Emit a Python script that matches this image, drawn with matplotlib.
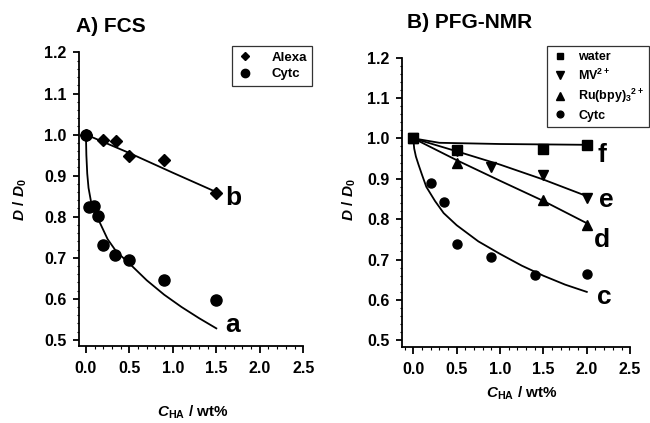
import matplotlib
matplotlib.use("Agg")
import matplotlib.pyplot as plt
from matplotlib.ticker import MultipleLocator

plt.rcParams['font.family'] = ['Liberation Sans', 'DejaVu Sans']
plt.rcParams['font.weight'] = 'bold'
plt.rcParams['mathtext.fontset'] = 'custom'
plt.rcParams['mathtext.rm'] = 'Liberation Sans:bold'
plt.rcParams['mathtext.it'] = 'Liberation Sans:italic:bold'
plt.rcParams['mathtext.bf'] = 'Liberation Sans:bold'

# Panel A (FCS) data
alexa_x = [0.0, 0.2, 0.35, 0.5, 0.9, 1.5]
alexa_y = [1.0, 0.986, 0.985, 0.949, 0.939, 0.858]
cytc_a_x = [0.0, 0.03, 0.09, 0.14, 0.2, 0.34, 0.5, 0.9, 1.5]
cytc_a_y = [1.0, 0.823, 0.826, 0.802, 0.730, 0.706, 0.694, 0.646, 0.597]

# fit curves a and b
fit_a_x = [0, 0.005, 0.015, 0.03, 0.06, 0.1, 0.15, 0.25, 0.35, 0.5, 0.7, 0.9, 1.1, 1.3, 1.5]
fit_a_y = [1.0, 0.95, 0.905, 0.87, 0.835, 0.81, 0.79, 0.745, 0.715, 0.686, 0.645, 0.61, 0.58, 0.553, 0.528]
fit_b_x = [0, 0.5, 1.0, 1.5]
fit_b_y = [1.0, 0.955, 0.907, 0.86]

# Panel B (PFG-NMR) data
water_x = [0.0, 0.5, 1.5, 2.0]
water_y = [1.0, 0.971, 0.973, 0.984]
mv_x = [0.0, 0.5, 0.9, 1.5, 2.0]
mv_y = [1.0, 0.968, 0.930, 0.909, 0.853]
ru_x = [0.0, 0.5, 1.5, 2.0]
ru_y = [1.0, 0.938, 0.847, 0.785]
cytc_b_x = [0.0, 0.2, 0.35, 0.5, 0.9, 1.4, 2.0]
cytc_b_y = [1.0, 0.889, 0.843, 0.738, 0.707, 0.663, 0.664]

fit_f_x = [0, 0.3, 1.0, 2.0]
fit_f_y = [1.0, 0.989, 0.986, 0.984]
fit_e_x = [0, 0.5, 1.0, 1.5, 2.0]
fit_e_y = [1.0, 0.968, 0.935, 0.898, 0.857]
fit_d_x = [0, 0.5, 1.0, 1.5, 2.0]
fit_d_y = [1.0, 0.946, 0.895, 0.845, 0.79]
fit_c_x = [0, 0.01, 0.03, 0.06, 0.1, 0.15, 0.25, 0.35, 0.5, 0.75, 1.0, 1.25, 1.5, 1.75, 2.0]
fit_c_y = [1.0, 0.975, 0.955, 0.935, 0.91, 0.88, 0.845, 0.815, 0.785, 0.745, 0.714, 0.685, 0.66, 0.638, 0.62]

x_ticks = [0.0, 0.5, 1.0, 1.5, 2.0, 2.5]
y_ticks = [0.5, 0.6, 0.7, 0.8, 0.9, 1.0, 1.1, 1.2]


def style_axes(ax, xmin, ymin):
    ax.set_xlim(xmin, 2.5)
    ax.set_ylim(ymin, 1.2)
    for s in ['top', 'right']:
        ax.spines[s].set_visible(False)
    for s in ['left', 'bottom']:
        ax.spines[s].set_linewidth(1.3)
    ax.set_xticks(x_ticks)
    ax.set_xticklabels(['%.1f' % v for v in x_ticks])
    ax.set_yticks(y_ticks)
    ax.set_yticklabels(['%.1f' % v for v in y_ticks])
    ax.xaxis.set_minor_locator(MultipleLocator(0.1))
    ax.yaxis.set_minor_locator(MultipleLocator(0.02))
    ax.tick_params(which='major', direction='out', length=4, width=1.3, labelsize=11.5)
    ax.tick_params(which='minor', direction='out', length=1.8, width=0.8)
    ax.tick_params(axis='x', which='major', pad=6, length=5)
    ax.tick_params(axis='y', which='major', pad=5)
    for lab in ax.get_xticklabels() + ax.get_yticklabels():
        lab.set_fontweight('bold')


def add_legend(ax, left_px, top_px, pad, size):
    leg = ax.legend(loc='upper left', bbox_to_anchor=(left_px / 650, 1 - top_px / 423),
                    bbox_transform=fig.transFigure, frameon=True, fancybox=False,
                    fontsize=size, markerscale=0.75, handlelength=1.2, handletextpad=pad,
                    borderpad=0.4, labelspacing=0.35, borderaxespad=0)
    leg.get_frame().set_edgecolor('black')
    leg.get_frame().set_linewidth(0.9)
    return leg


fig = plt.figure(figsize=(6.5, 4.23), dpi=100)
axA = fig.add_axes([0.1215, 0.182, 0.345, 0.694])
axB = fig.add_axes([0.6185, 0.180, 0.351, 0.684])

# panel A
axA.plot(fit_a_x, fit_a_y, color='black', lw=1.3)
axA.plot(fit_b_x, fit_b_y, color='black', lw=1.3)
axA.plot(alexa_x, alexa_y, 'D', color='black', ms=6, label='Alexa')
axA.plot(cytc_a_x, cytc_a_y, 'o', color='black', ms=8, label='Cytc')
style_axes(axA, -0.08, 0.485)
axA.text(1.69, 0.845, 'b', fontsize=19, fontweight='bold', ha='center', va='center')
axA.text(1.69, 0.537, 'a', fontsize=19, fontweight='bold', ha='center', va='center')
add_legend(axA, 232, 46, 1.4, 9.5)

# panel B
axB.plot(fit_f_x, fit_f_y, color='black', lw=1.3)
axB.plot(fit_e_x, fit_e_y, color='black', lw=1.3)
axB.plot(fit_d_x, fit_d_y, color='black', lw=1.3)
axB.plot(fit_c_x, fit_c_y, color='black', lw=1.3)
axB.plot(water_x, water_y, 's', color='black', ms=6.5, label='water')
axB.plot(mv_x, mv_y, 'v', color='black', ms=7, label='MV$^{2+}$')
axB.plot(ru_x, ru_y, '^', color='black', ms=7, label='Ru(bpy)$_3$$^{2+}$')
axB.plot(cytc_b_x, cytc_b_y, 'o', color='black', ms=6.5, label='Cytc')
style_axes(axB, -0.13, 0.484)
for lx, ly, s in [(2.18, 0.959, 'f'), (2.23, 0.847, 'e'), (2.18, 0.748, 'd'), (2.20, 0.607, 'c')]:
    axB.text(lx, ly, s, fontsize=19, fontweight='bold', ha='center', va='center')
add_legend(axB, 547, 46, 0.9, 9)

# titles and axis labels
fig.text(76 / 650, 1 - 26 / 423, 'A) FCS', fontsize=15, fontweight='bold', ha='left', va='center')
fig.text(407 / 650, 1 - 23 / 423, 'B) PFG-NMR', fontsize=15, fontweight='bold', ha='left', va='center')
fig.text(20 / 650, 1 - 200 / 423, r'$D\ /\ D_0$', fontsize=11, rotation=90, ha='center', va='center')
fig.text(349 / 650, 1 - 200 / 423, r'$D\ /\ D_0$', fontsize=11, rotation=90, ha='center', va='center')
fig.text(193 / 650, 1 - 412 / 423, r'$C_{\mathrm{HA}}$ / wt%', fontsize=11, fontweight='bold', ha='center', va='center')
fig.text(522 / 650, 1 - 393 / 423, r'$C_{\mathrm{HA}}$ / wt%', fontsize=11, fontweight='bold', ha='center', va='center')

fig.savefig('out.png', dpi=100)
